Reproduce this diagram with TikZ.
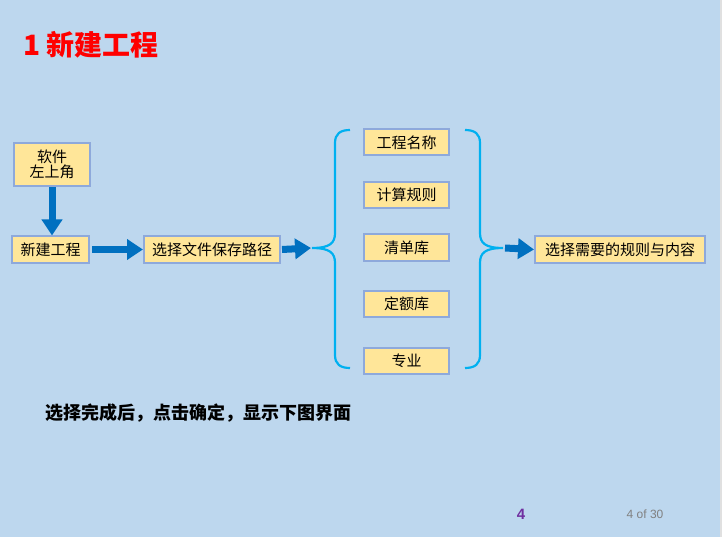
\documentclass[tikz,border=0pt]{standalone}
\usepackage{fontspec}
\setmainfont{Liberation Sans}
\newfontfamily\cjk{Noto Sans CJK SC}
\usetikzlibrary{arrows.meta}
\definecolor{bgc}{RGB}{189,215,238}
\definecolor{boxfill}{RGB}{255,230,153}
\definecolor{boxline}{RGB}{142,169,219}
\definecolor{arrowc}{RGB}{0,112,192}
\definecolor{bracec}{RGB}{0,176,240}
\definecolor{pagec}{RGB}{112,48,160}
\tikzset{
  stepbox/.style={draw=boxline, line width=2pt, fill=boxfill, inner sep=0pt,
    minimum height=26pt, font=\cjk\fontsize{15pt}{18pt}\selectfont, align=center},
  bigarrow/.style={draw=arrowc, line width=7pt, -{Triangle[length=16pt,width=20pt]}},
  bracel/.style={draw=bracec, line width=2.2pt},
}
\begin{document}
\begin{tikzpicture}[x=1pt,y=-1pt]
\fill[bgc] (0,0) rectangle (722,537);
\fill[black!12] (720,0) rectangle (722,537);
\useasboundingbox (0,0) rectangle (722,537);

\node[anchor=west, text=red, font=\cjk\bfseries\fontsize{28pt}{32pt}\selectfont] (title) at (20,45) {1 新建工程};

\node[stepbox, minimum width=76pt, minimum height=43pt] (soft) at (52,164.5) {软件\\[-3pt]左上角};
\node[stepbox, minimum width=77pt] (new) at (50.5,249.5) {新建工程};
\node[stepbox, minimum width=136pt] (path) at (212,249.5) {选择文件保存路径};

\node[stepbox, minimum width=85pt] (i1) at (406.5,142.5) {工程名称};
\node[stepbox, minimum width=85pt] (i2) at (406.5,195) {计算规则};
\node[stepbox, minimum width=85pt] (i3) at (406.5,247.5) {清单库};
\node[stepbox, minimum width=85pt] (i4) at (406.5,304) {定额库};
\node[stepbox, minimum width=85pt] (i5) at (406.5,360.5) {专业};

\node[stepbox, minimum width=170pt] (final) at (620,249.5) {选择需要的规则与内容};

\coordinate (ltip) at (312,248);
\coordinate (rtip) at (503,248);

\draw[bracel] (350,130) .. controls (340,130) and (335,134) .. (335,143)
  -- (335,233) .. controls (335,243) and (330,248) .. (ltip)
  (ltip) .. controls (330,248) and (335,253) .. (335,263)
  -- (335,355) .. controls (335,364) and (340,368) .. (350,368);
\draw[bracel] (465,130) .. controls (475,130) and (480,134) .. (480,143)
  -- (480,233) .. controls (480,243) and (485,248) .. (rtip)
  (rtip) .. controls (485,248) and (480,253) .. (480,263)
  -- (480,355) .. controls (480,364) and (475,368) .. (465,368);

\draw[bigarrow] (soft.south) -- (soft.south |- new.north);
\draw[bigarrow] ([xshift=2pt]new.east) -- (path.west);
\draw[bigarrow] ([xshift=1pt]path.east) -- ([xshift=-1pt]ltip);
\draw[bigarrow] ([xshift=2pt]rtip) -- (final.west);

\node[anchor=west, font=\cjk\bfseries\fontsize{18pt}{22pt}\selectfont] (note) at (42,413) {选择完成后，点击确定，显示下图界面};

\node[text=pagec, font=\bfseries\fontsize{15pt}{18pt}\selectfont] (pnum) at (521,514) {4};
\node[text=black!50, font=\fontsize{12pt}{14pt}\selectfont] (pof) at (645,514) {4 of 30};
\end{tikzpicture}
\end{document}
